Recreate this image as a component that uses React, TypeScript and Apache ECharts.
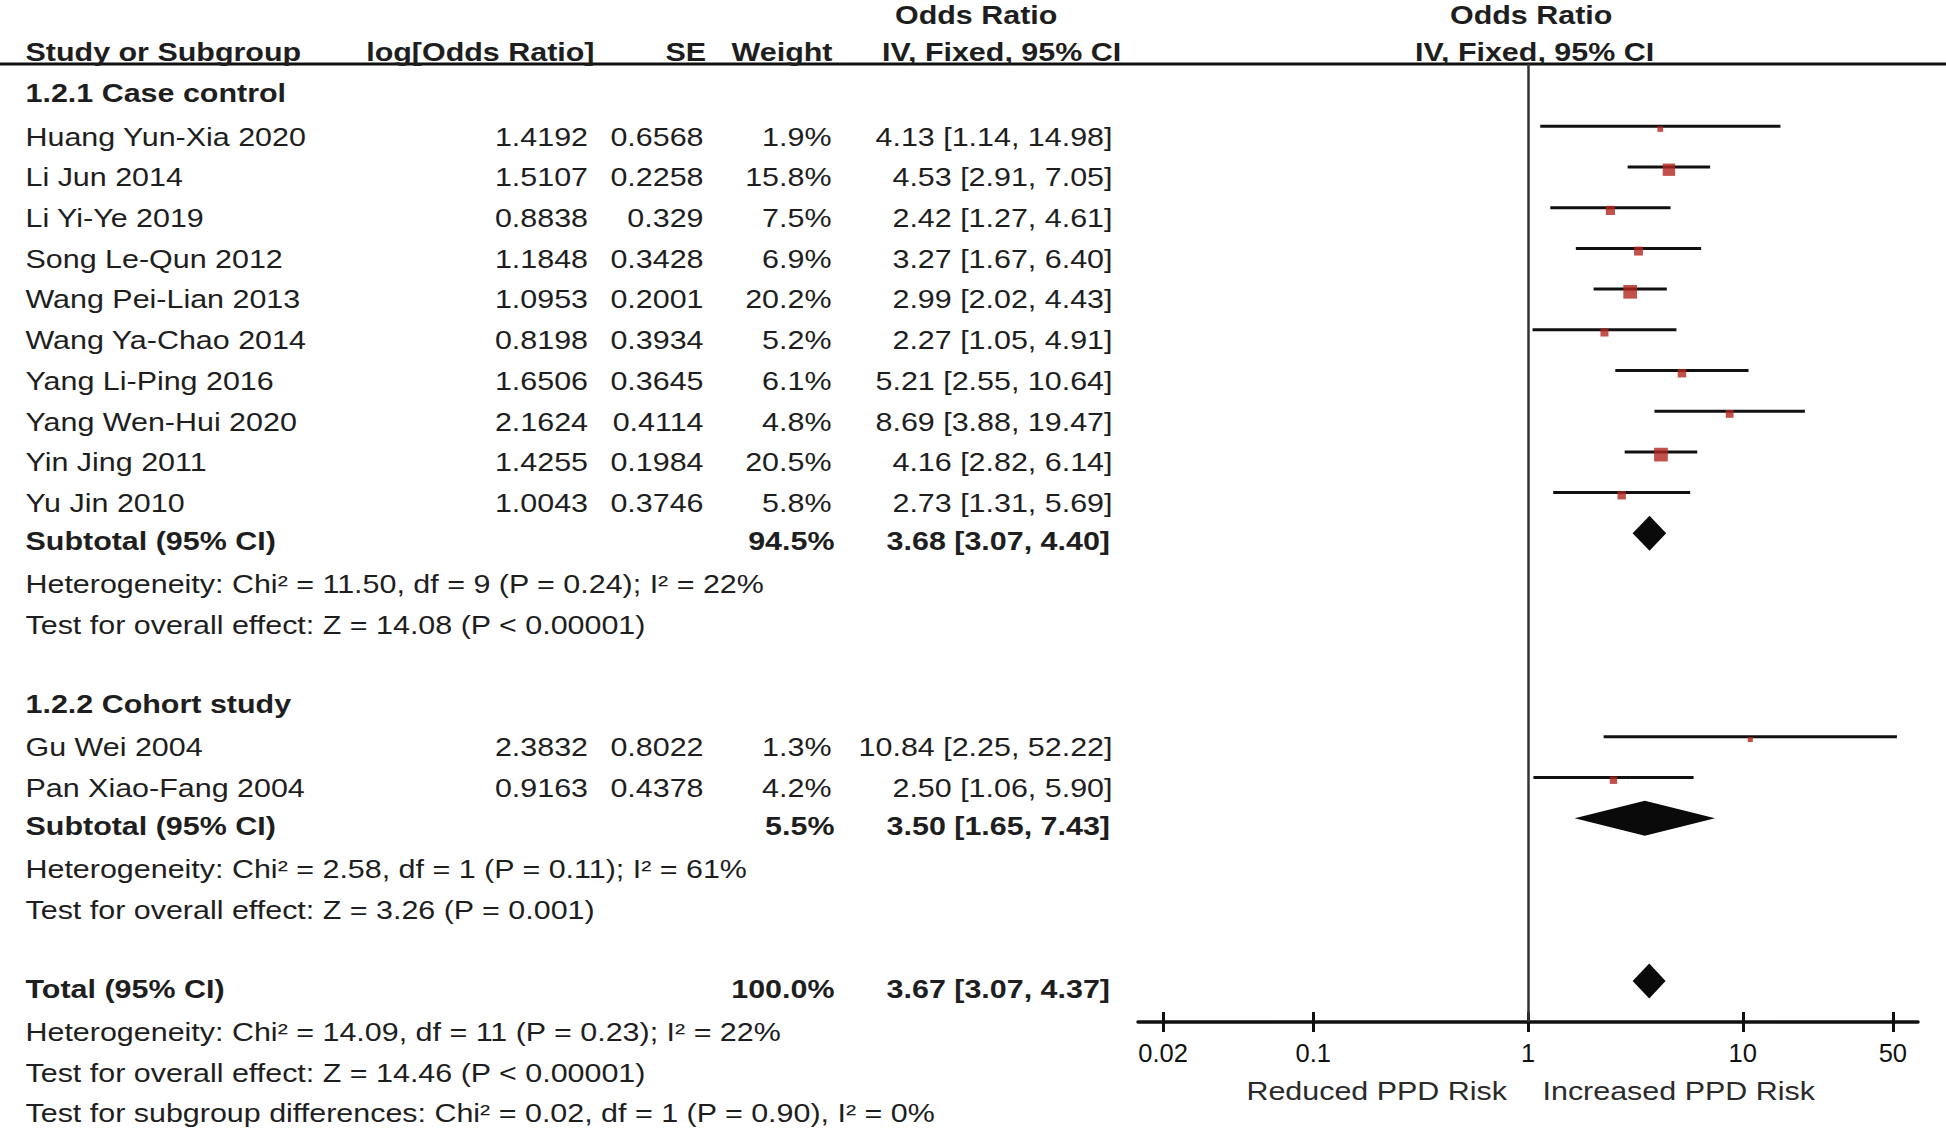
import React, { useEffect, useRef } from 'react';
import * as echarts from 'echarts';

// ---------- data ----------
const studyNames = [
  'Huang Yun-Xia 2020', 'Li Jun 2014', 'Li Yi-Ye 2019', 'Song Le-Qun 2012', 'Wang Pei-Lian 2013',
  'Wang Ya-Chao 2014', 'Yang Li-Ping 2016', 'Yang Wen-Hui 2020', 'Yin Jing 2011', 'Yu Jin 2010',
  'Gu Wei 2004', 'Pan Xiao-Fang 2004',
];
const logOddsRatio = [1.4192, 1.5107, 0.8838, 1.1848, 1.0953, 0.8198, 1.6506, 2.1624, 1.4255, 1.0043, 2.3832, 0.9163];
const standardError = ['0.6568', '0.2258', '0.329', '0.3428', '0.2001', '0.3934', '0.3645', '0.4114', '0.1984', '0.3746', '0.8022', '0.4378'];
const weights = [1.9, 15.8, 7.5, 6.9, 20.2, 5.2, 6.1, 4.8, 20.5, 5.8, 1.3, 4.2];
const oddsRatio = [4.13, 4.53, 2.42, 3.27, 2.99, 2.27, 5.21, 8.69, 4.16, 2.73, 10.84, 2.5];
const ciLow = [1.14, 2.91, 1.27, 1.67, 2.02, 1.05, 2.55, 3.88, 2.82, 1.31, 2.25, 1.06];
const ciHigh = [14.98, 7.05, 4.61, 6.4, 4.43, 4.91, 10.64, 19.47, 6.14, 5.69, 52.22, 5.9];

const pooledLabels = ['Subtotal (95% CI)', 'Subtotal (95% CI)', 'Total (95% CI)'];
const pooledWeights = [94.5, 5.5, 100.0];
const pooledOR = [3.68, 3.5, 3.67];
const pooledLow = [3.07, 1.65, 3.07];
const pooledHigh = [4.4, 7.43, 4.37];

const groupTitles = ['1.2.1 Case control', '1.2.2 Cohort study'];
const noteLines = [
  'Heterogeneity: Chi² = 11.50, df = 9 (P = 0.24); I² = 22%',
  'Test for overall effect: Z = 14.08 (P < 0.00001)',
  'Heterogeneity: Chi² = 2.58, df = 1 (P = 0.11); I² = 61%',
  'Test for overall effect: Z = 3.26 (P = 0.001)',
  'Heterogeneity: Chi² = 14.09, df = 11 (P = 0.23); I² = 22%',
  'Test for overall effect: Z = 14.46 (P < 0.00001)',
  'Test for subgroup differences: Chi² = 0.02, df = 1 (P = 0.90), I² = 0%',
];
const tickValues = [0.02, 0.1, 1, 10, 50];
const favourLabels = ['Reduced PPD Risk', 'Increased PPD Risk'];
const columnHeaders = ['Study or Subgroup', 'log[Odds Ratio]', 'SE', 'Weight', 'IV, Fixed, 95% CI'];
const orHeader = 'Odds Ratio';

// ---------- layout (row slots) ----------
const studyRows = [0, 1, 2, 3, 4, 5, 6, 7, 8, 9, 15, 16];
const pooledRows = [10, 17, 21];
const groupRows = [-1, 14];
const noteRows = [11, 12, 18, 19, 22, 23, 24];

const FONT = 'Liberation Sans, Arial, Helvetica, sans-serif';
const FS = 25.5;
const SX = 1.194;
const INK = '#1e1e1e';
const textY = (r: number) => 137 + 40.7 * r;

const lg = (v: number) => Math.log10(v);
const ciText = (o: number, l: number, h: number) => `${o.toFixed(2)} [${l.toFixed(2)}, ${h.toFixed(2)}]`;

function txt(text: string, x: number, y: number, align = 'left', bold = false, fill = INK) {
  return {
    type: 'text',
    x,
    y,
    scaleX: SX,
    silent: true,
    z: 10,
    style: {
      text,
      fill,
      fontSize: FS,
      fontFamily: FONT,
      fontWeight: bold ? 'bold' : 'normal',
      align,
      verticalAlign: 'middle',
      textAlign: align,
      textVerticalAlign: 'middle',
    },
  };
}

export default function App() {
  const ref = useRef<HTMLDivElement>(null);

  useEffect(() => {
    if (!ref.current) return;
    const chart = echarts.init(ref.current, undefined, { renderer: 'svg' });

    const graphics: any[] = [];
    // header line
    graphics.push({
      type: 'line',
      silent: true,
      z: 5,
      shape: { x1: 0, y1: 64, x2: 1946, y2: 64 },
      style: { stroke: '#111', lineWidth: 3 },
    });
    // headers
    graphics.push(txt(orHeader, 895, 15.5, 'left', true));
    graphics.push(txt(orHeader, 1450, 15.5, 'left', true));
    graphics.push(txt(columnHeaders[0], 25.5, 52, 'left', true));
    graphics.push(txt(columnHeaders[1], 594.5, 52, 'right', true));
    graphics.push(txt(columnHeaders[2], 706, 52, 'right', true));
    graphics.push(txt(columnHeaders[3], 832.5, 52, 'right', true));
    graphics.push(txt(columnHeaders[4], 882, 52, 'left', true));
    graphics.push(txt(columnHeaders[4], 1415, 52, 'left', true));
    // group titles
    groupTitles.forEach((t, i) => graphics.push(txt(t, 25.5, textY(groupRows[i]) - 2.8, 'left', true)));
    // studies
    studyNames.forEach((n, i) => {
      const y = textY(studyRows[i]);
      graphics.push(txt(n, 25.5, y));
      graphics.push(txt(String(logOddsRatio[i]), 588, y, 'right'));
      graphics.push(txt(standardError[i], 703.5, y, 'right'));
      graphics.push(txt(`${weights[i].toFixed(1)}%`, 831.5, y, 'right'));
      graphics.push(txt(ciText(oddsRatio[i], ciLow[i], ciHigh[i]), 1112.5, y, 'right'));
    });
    // pooled
    pooledLabels.forEach((n, i) => {
      const y = textY(pooledRows[i]) - 2.6;
      graphics.push(txt(n, 25.5, y, 'left', true));
      graphics.push(txt(`${pooledWeights[i].toFixed(1)}%`, 834.5, y, 'right', true));
      graphics.push(txt(ciText(pooledOR[i], pooledLow[i], pooledHigh[i]), 1110, y, 'right', true));
    });
    // notes
    noteLines.forEach((n, i) => graphics.push(txt(n, 25.5, textY(noteRows[i]), 'left')));
    // favour labels
    graphics.push(txt(favourLabels[0], 1507, 1091.5, 'right', false, '#2a2a2a'));
    graphics.push(txt(favourLabels[1], 1542.5, 1091.5, 'left', false, '#2a2a2a'));

    const tickLog = tickValues.map(lg);
    const fmt = (v: number) => {
      const t = tickValues.find((tv) => Math.abs(lg(tv) - v) < 1e-6);
      return t === undefined ? '' : String(t);
    };

    const sqSize = (w: number) => 2.2 + 2.55 * Math.sqrt(w);

    const option: any = {
      animation: false,
      backgroundColor: '#ffffff',
      grid: { left: 1138, right: 28, top: 64, bottom: 110, containLabel: false },
      xAxis: [
        {
          type: 'value',
          min: -1.816,
          max: 1.816,
          position: 'bottom',
          axisLine: { show: true, onZero: false, lineStyle: { color: '#111', width: 3.5 } },
          axisTick: { show: true, inside: false, length: 10, customValues: tickLog, lineStyle: { color: '#111', width: 3 } },
          axisLabel: {
            show: true,
            customValues: tickLog,
            formatter: fmt,
            color: '#111',
            fontSize: FS,
            fontFamily: FONT,
            margin: 18,
            hideOverlap: false,
            showMinLabel: true,
            showMaxLabel: true,
          },
          splitLine: { show: false },
        },
        {
          type: 'value',
          min: -1.816,
          max: 1.816,
          position: 'bottom',
          axisLine: { show: false, onZero: false },
          axisTick: { show: true, inside: true, length: 10, customValues: tickLog, lineStyle: { color: '#111', width: 3 } },
          axisLabel: { show: false },
          splitLine: { show: false },
        },
      ],
      yAxis: { type: 'value', min: -1.531, max: 22.007, inverse: true, show: false },
      series: [
        {
          type: 'custom',
          name: 'ci',
          xAxisIndex: 0,
          encode: { x: [0, 1], y: 2 },
          data: studyNames.map((_, i) => [lg(ciLow[i]), lg(ciHigh[i]), studyRows[i]]),
          renderItem: (params: any, api: any) => {
            const a = api.coord([api.value(0), api.value(2)]);
            const b = api.coord([api.value(1), api.value(2)]);
            return {
              type: 'line',
              shape: { x1: a[0], y1: a[1], x2: b[0], y2: b[1] },
              style: { stroke: '#111', lineWidth: 3 },
            };
          },
          z: 2,
          silent: true,
        },
        {
          type: 'scatter',
          name: 'or',
          xAxisIndex: 0,
          symbol: 'rect',
          symbolOffset: [0, 2.7],
          symbolSize: (_v: any, p: any) => sqSize(weights[p.dataIndex]),
          itemStyle: { color: '#b3261e' },
          data: studyNames.map((_, i) => [lg(oddsRatio[i]), studyRows[i]]),
          z: 3,
          silent: true,
          markLine: {
            silent: true,
            symbol: ['none', 'none'],
            label: { show: false },
            lineStyle: { color: '#333', width: 2.5, type: 'solid' },
            data: [{ xAxis: 0 }],
          },
        },
        {
          type: 'custom',
          name: 'pooled',
          xAxisIndex: 0,
          encode: { x: [0, 1, 2], y: 3 },
          data: pooledLabels.map((_, i) => [lg(pooledLow[i]), lg(pooledOR[i]), lg(pooledHigh[i]), pooledRows[i]]),
          renderItem: (params: any, api: any) => {
            const r = api.value(3);
            const l = api.coord([api.value(0), r]);
            const c = api.coord([api.value(1), r]);
            const h = api.coord([api.value(2), r]);
            return {
              type: 'polygon',
              shape: { points: [l, [c[0], c[1] - 17.5], h, [c[0], c[1] + 17.5]] },
              style: { fill: '#0a0a0a' },
            };
          },
          z: 3,
          silent: true,
        },
      ],
      graphic: graphics,
    };

    chart.setOption(option);
    return () => chart.dispose();
  }, []);

  return (
    <div
      ref={ref}
      style={{ position: 'absolute', left: 0, top: 0, width: 1946, height: 1132, background: '#fff' }}
    />
  );
}
